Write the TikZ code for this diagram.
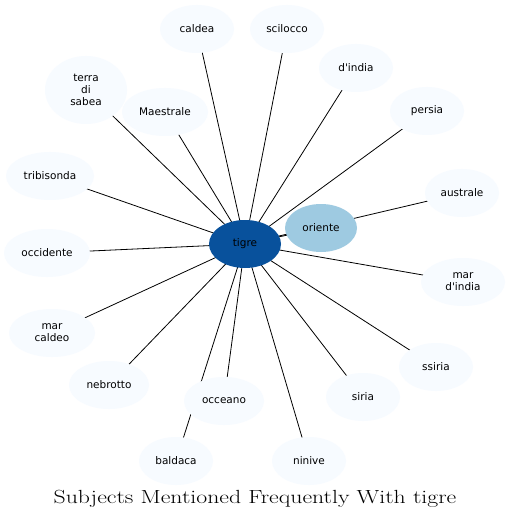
\documentclass[tikz,border=0pt]{standalone}
\usepackage{fontspec}
\usepackage{graphicx}
\newfontfamily\nodefont{DejaVu Sans}
\usetikzlibrary{shapes.geometric}
\definecolor{leaf}{HTML}{F7FBFF}
\definecolor{hub}{HTML}{08519C}
\definecolor{mid}{HTML}{9ECAE1}
\tikzset{
  every node/.style={inner sep=0pt},
  blob/.style={ellipse, fill=leaf, minimum width=74pt, minimum height=48pt, align=center, font=\nodefont\fontsize{10.5}{12}\selectfont},
  link/.style={draw=black, line width=0.8pt},
}
\begin{document}
\begin{tikzpicture}[x=1pt,y=-1pt]
\useasboundingbox (0,0) rectangle (510,521);
\fill[white] (0,0) rectangle (510,521);
% coordinates of nodes (centres)
\coordinate (ptigre) at (245,244);
\coordinate (poriente) at (321,228);
\coordinate (pcaldea) at (197,29);
\coordinate (pscilocco) at (287,29);
\coordinate (pdindia) at (356,68);
\coordinate (ppersia) at (427,111);
\coordinate (paustrale) at (462,193);
\coordinate (pmardindia) at (463,282);
\coordinate (pssiria) at (436,367);
\coordinate (psiria) at (363,397);
\coordinate (pninive) at (309,461);
\coordinate (pocceano) at (224,401);
\coordinate (pbaldaca) at (176,461);
\coordinate (pnebrotto) at (109,385);
\coordinate (pmarcaldeo) at (52,333);
\coordinate (poccidente) at (47,253);
\coordinate (ptribisonda) at (50,176);
\coordinate (pterra) at (86,90);
\coordinate (pmaestrale) at (165,112);
% edges (drawn first, nodes cover them)
\foreach \t in {oriente,caldea,scilocco,dindia,persia,australe,mardindia,ssiria,siria,ninive,occeano,baldaca,nebrotto,marcaldeo,occidente,tribisonda,terra,maestrale}
  \draw[link] (ptigre) -- (p\t);
% nodes
\node[blob] (caldea) at (pcaldea) {caldea};
\node[blob] (scilocco) at (pscilocco) {scilocco};
\node[blob] (dindia) at (pdindia) {d'india};
\node[blob] (persia) at (ppersia) {persia};
\node[blob] (australe) at (paustrale) {australe};
\node[blob, minimum width=84pt] (mardindia) at (pmardindia) {mar\\d'india};
\node[blob] (ssiria) at (pssiria) {ssiria};
\node[blob] (siria) at (psiria) {siria};
\node[blob] (ninive) at (pninive) {ninive};
\node[blob, minimum width=80pt] (occeano) at (pocceano) {occeano};
\node[blob] (baldaca) at (pbaldaca) {baldaca};
\node[blob, minimum width=80pt] (nebrotto) at (pnebrotto) {nebrotto};
\node[blob, minimum width=86pt] (marcaldeo) at (pmarcaldeo) {mar\\caldeo};
\node[blob, minimum width=86pt] (occidente) at (poccidente) {occidente};
\node[blob, minimum width=88pt] (tribisonda) at (ptribisonda) {tribisonda};
\node[blob, minimum width=82pt, minimum height=68pt] (terra) at (pterra) {terra\\di\\sabea};
\node[blob, minimum width=86pt] (maestrale) at (pmaestrale) {Maestrale};
\node[blob, fill=mid, minimum width=72pt] (oriente) at (poriente) {oriente};
\node[blob, fill=hub, minimum width=72pt] (tigre) at (ptigre) {tigre};
\node[font=\fontsize{19}{22}\selectfont] (title) at (255,499) {\scalebox{1.25}[1]{Subjects Mentioned Frequently With tigre}};
\end{tikzpicture}
\end{document}
